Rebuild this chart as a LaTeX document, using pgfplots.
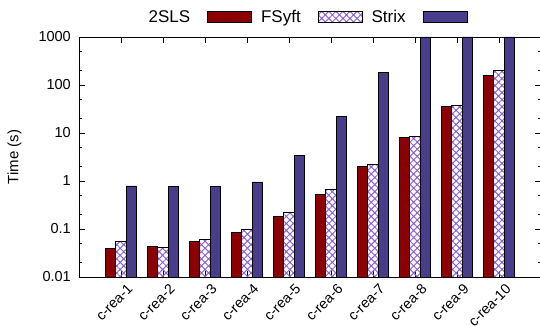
\documentclass[border=0pt]{standalone}
\usepackage{pgfplots}
\pgfplotsset{compat=1.18}
\usetikzlibrary{patterns.meta}
\usepackage{fontspec}
\setmainfont{Liberation Sans}
\definecolor{dred}{HTML}{8B0000}
\definecolor{sblue}{HTML}{483D8B}
\definecolor{hpurple}{HTML}{8A63D2}
\begin{document}
\begin{tikzpicture}
\begin{axis}[
  scale only axis, width=462pt, height=240pt,
  ymode=log, ymin=0.01, ymax=1000, log origin y=infty,
  xmin=0, xmax=11,
  ybar, bar width=0.25,
  xtick={1,2,3,4,5,6,7,8,9,10},
  xticklabels={c-rea-1,c-rea-2,c-rea-3,c-rea-4,c-rea-5,c-rea-6,c-rea-7,c-rea-8,c-rea-9,c-rea-10},
  ytick={0.01,0.1,1,10,100,1000},
  yticklabels={0.01,0.1,1,10,100,1000},
  minor ytick={0.02,0.05,0.2,0.5,2,5,20,50,200,500},
  tick align=inside,
  major tick length=6pt, minor tick length=3pt,
  every tick/.style={black, line width=0.8pt},
  axis line style={line width=0.8pt},
  yticklabel style={inner sep=0pt, xshift=-8pt, font=\fontsize{14.5}{16}\selectfont},
  xticklabel style={rotate=45, anchor=north east, inner sep=0pt, yshift=-8pt, font=\fontsize{14.2}{16}\selectfont},
  ylabel={Time (s)},
  every axis y label/.style={at={(axis description cs:-0.1396,0.5)}, rotate=90, anchor=center, font=\fontsize{15}{17}\selectfont},
  legend columns=3,
  legend plot pos=right,
  legend image code/.code={\draw[#1, line width=0.8pt] (0pt,-5.2pt) rectangle (44pt,5.2pt);},
  legend style={at={(axis description cs:0.4957,1.084)}, anchor=center, draw=none, fill=none,
    nodes={inner sep=0pt, font=\fontsize{17}{19}\selectfont},
    /tikz/every even column/.append style={column sep=9pt},
    /tikz/every odd column/.append style={column sep=17pt}},
]
\addplot[draw=black, line width=0.8pt, fill=dred, bar shift=-0.25] coordinates {
  (1,0.0388) (2,0.0427) (3,0.055) (4,0.083) (5,0.182) (6,0.521) (7,1.99) (8,7.98) (9,35.2) (10,155)};
\addplot[draw=black, line width=0.8pt, pattern={Hatch[angle=45,distance=5pt,line width=1pt]}, pattern color=hpurple, bar shift=0] coordinates {
  (1,0.056) (2,0.0406) (3,0.0596) (4,0.0995) (5,0.224) (6,0.676) (7,2.19) (8,8.54) (9,37.0) (10,197)};
\addplot[draw=black, line width=0.8pt, fill=sblue, bar shift=0.25] coordinates {
  (1,0.79) (2,0.765) (3,0.754) (4,0.957) (5,3.37) (6,21.8) (7,179) (8,1000) (9,1000) (10,1000)};
\legend{2SLS,FSyft,Strix}
\end{axis}
\pgfresetboundingbox
\path[use as bounding box] (-79pt,-49pt) rectangle (461pt,277pt);
\end{tikzpicture}
\end{document}
